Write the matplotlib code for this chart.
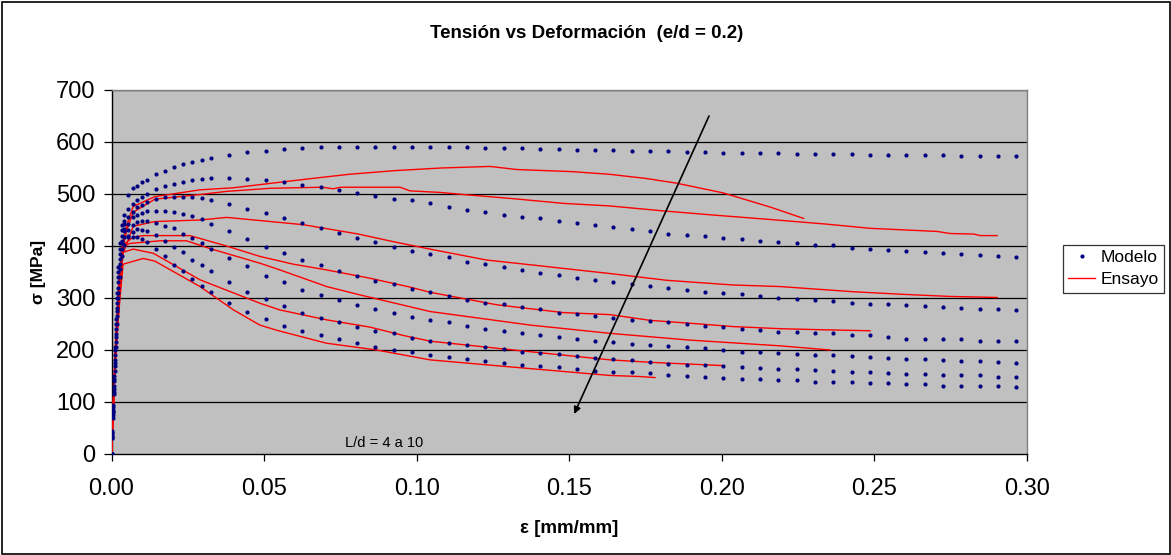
import matplotlib
matplotlib.use("Agg")
import matplotlib.pyplot as plt
from matplotlib.patches import Rectangle
from matplotlib.lines import Line2D

plt.rcParams['font.family'] = ['Liberation Sans', 'DejaVu Sans']

# ---- Modelo: strain grid shared by all seven model series ----
eps_model = [0.0, 0.0003, 0.0006, 0.0009, 0.0012, 0.0015, 0.0018, 0.0022, 0.0027, 0.0033,
             0.004, 0.0055, 0.007, 0.0085, 0.010, 0.0115, 0.0145, 0.0175, 0.0205, 0.0235,
             0.0265, 0.0295, 0.0325, 0.0385, 0.0445, 0.0505, 0.0565, 0.0625, 0.0685, 0.0745,
             0.0805, 0.0865, 0.0925, 0.0985, 0.1045, 0.1105, 0.1165, 0.1225, 0.1285, 0.1345,
             0.1405, 0.1465, 0.1525, 0.1585, 0.1645, 0.1705, 0.1765, 0.1825, 0.1885, 0.1945,
             0.2005, 0.2065, 0.2125, 0.2185, 0.2245, 0.2305, 0.2365, 0.2425, 0.2485, 0.2545,
             0.2605, 0.2665, 0.2725, 0.2785, 0.2845, 0.2905, 0.2965]

modelo_1 = [0, 45, 95, 150, 205, 260, 310, 360, 405, 440,
            460, 499, 511, 516, 523, 527, 538, 545, 551, 557, 561, 566, 570,
            575, 581, 583, 586, 589, 590, 590, 590, 590, 590, 590, 590, 590, 590,
            588, 588, 588, 586, 586, 585, 585, 585, 582, 582, 582, 581, 581,
            579, 579, 579, 579, 577, 577, 577, 577, 575, 575, 575, 575, 575,
            574, 574, 574, 574]
modelo_2 = [0, 40, 90, 145, 200, 250, 300, 350, 395, 430,
            449, 472, 481, 488, 495, 500, 510, 515, 519, 524, 527, 528, 531,
            531, 528, 527, 523, 517, 513, 508, 502, 497, 491, 488,
            482, 475, 470, 466, 460, 456, 453, 448, 444, 440, 437, 433, 429, 424, 421, 419,
            416, 414, 410, 408, 405, 402, 401, 397, 395, 393, 390, 389, 387, 385, 383, 381, 379]
modelo_3 = [0, 40, 85, 140, 190, 240, 290, 340, 385, 420,
            442, 455, 466, 475, 478, 485, 490, 494, 494, 495, 494, 492, 488,
            481, 472, 463, 454, 444, 434, 425, 416, 407, 399, 391,
            384, 378, 370, 365, 359, 354, 348, 344, 338, 334, 330, 327, 324, 320, 316, 312,
            310, 307, 304, 300, 299, 297, 295, 291, 289, 288, 286, 284, 282, 280, 279, 278, 276]
modelo_4 = [0, 35, 80, 130, 180, 230, 280, 330, 375, 410,
            433, 442, 455, 459, 463, 468, 468, 468, 466, 462, 457, 452, 442,
            429, 414, 398, 386, 374, 363, 352, 343, 333, 326, 318,
            311, 304, 297, 291, 288, 282, 279, 272, 269, 265, 262, 257, 256, 253, 250, 246,
            244, 241, 239, 235, 235, 233, 232, 228, 228, 225, 222, 222, 221, 221, 218, 217, 217]
modelo_5 = [0, 35, 80, 125, 175, 225, 275, 320, 365, 405,
            428, 431, 440, 447, 449, 449, 445, 439, 434, 423, 415, 406, 395,
            377, 361, 343, 330, 316, 305, 296, 287, 279, 271, 264,
            258, 253, 246, 240, 237, 233, 229, 225, 222, 218, 215, 212, 209, 207, 206, 203,
            200, 197, 196, 194, 192, 190, 190, 188, 186, 185, 183, 182, 181, 179, 179, 177, 175]
modelo_6 = [0, 30, 75, 120, 170, 215, 265, 310, 355, 395,
            417, 420, 426, 433, 431, 428, 421, 410, 398, 388, 373, 364, 351,
            330, 312, 298, 284, 271, 262, 253, 245, 237, 232, 224,
            218, 214, 209, 205, 201, 197, 194, 192, 188, 185, 182, 181, 177, 174, 172, 171,
            170, 167, 166, 163, 163, 162, 160, 158, 158, 156, 154, 154, 152, 151, 151, 149, 149]
modelo_7 = [0, 30, 70, 115, 160, 205, 250, 300, 340, 380,
            402, 417, 417, 417, 414, 407, 394, 380, 363, 351, 337, 324, 311,
            291, 273, 260, 247, 237, 229, 221, 214, 206, 200, 197,
            190, 186, 183, 179, 175, 171, 169, 167, 163, 160, 158, 158, 155, 152, 150, 149,
            147, 145, 145, 143, 142, 139, 139, 138, 136, 136, 134, 134, 131, 131, 130, 130, 128]

modelo_series = [modelo_1, modelo_2, modelo_3, modelo_4, modelo_5, modelo_6, modelo_7]

# ---- Ensayo: measured curves, each with its own strain points ----
ensayo_1_eps = [0, 0.0012, 0.0025, 0.0035, 0.005, 0.0071, 0.0142, 0.02, 0.029, 0.04, 0.0486,
                0.063, 0.078, 0.093, 0.108, 0.124, 0.133, 0.151, 0.163, 0.175, 0.185,
                0.2005, 0.2158, 0.2268]
ensayo_1_sig = [0, 200, 340, 400, 440, 476, 495, 500, 508, 512, 518,
                528, 538, 545, 550, 553, 547, 543, 538, 530, 521,
                502, 475, 453]

ensayo_2_eps = [0, 0.0012, 0.0025, 0.0035, 0.005, 0.0071, 0.0142, 0.029, 0.0377, 0.052,
                0.069, 0.0727, 0.075, 0.089, 0.0946, 0.0978, 0.1077, 0.1153, 0.1317, 0.148,
                0.1634, 0.1798, 0.1962, 0.2158, 0.2344, 0.2486, 0.2705, 0.2748, 0.2825,
                0.2847, 0.2902]
ensayo_2_sig = [0, 195, 330, 390, 430, 465, 490, 499, 505, 511,
                513, 510, 513, 513, 513, 506, 503, 499, 491, 482,
                477, 468, 460, 451, 442, 434, 428, 424, 423,
                420, 420]

ensayo_3_eps = [0, 0.0012, 0.0025, 0.0035, 0.0071, 0.0142, 0.029, 0.0377, 0.0486, 0.0628,
                0.0809, 0.0918, 0.1044, 0.1229, 0.1371, 0.1634, 0.182, 0.2038, 0.2191,
                0.2432, 0.2595, 0.2748, 0.2902]
ensayo_3_sig = [0, 190, 320, 380, 438, 447, 450, 455, 449, 441,
                423, 409, 394, 373, 364, 347, 334, 325, 322,
                312, 307, 303, 301]

ensayo_4_eps = [0, 0.0012, 0.0025, 0.0038, 0.0071, 0.0104, 0.0257, 0.0377, 0.0486, 0.0596,
                0.0705, 0.0847, 0.0978, 0.1044, 0.1262, 0.148, 0.1634, 0.1765, 0.1929,
                0.2038, 0.2191, 0.2322, 0.2486]
ensayo_4_sig = [0, 185, 310, 402, 417, 420, 420, 400, 380, 365,
                354, 338, 321, 311, 287, 272, 268, 257, 250,
                245, 241, 239, 237]

ensayo_5_eps = [0, 0.0012, 0.0025, 0.0038, 0.006, 0.0159, 0.0246, 0.0323, 0.0486, 0.0552,
                0.0705, 0.0814, 0.1044, 0.1371, 0.1634, 0.1896, 0.2191, 0.2355]
ensayo_5_sig = [0, 180, 300, 399, 405, 410, 410, 395, 367, 354,
                322, 306, 274, 248, 232, 219, 208, 200]

ensayo_6_eps = [0, 0.0012, 0.0025, 0.0038, 0.0071, 0.0137, 0.029, 0.0486, 0.0552, 0.0705,
                0.0847, 0.0956, 0.1044, 0.1317, 0.1634, 0.1776, 0.2005]
ensayo_6_sig = [0, 175, 290, 388, 394, 386, 335, 290, 277, 258,
                244, 228, 217, 200, 181, 176, 170]

ensayo_7_eps = [0, 0.0012, 0.0025, 0.0038, 0.0104, 0.0142, 0.029, 0.04, 0.0486, 0.0541,
                0.0705, 0.0869, 0.1044, 0.1317, 0.1634, 0.1732, 0.1781]
ensayo_7_sig = [0, 170, 280, 365, 376, 371, 322, 277, 248, 238,
                213, 200, 181, 167, 151, 149, 147]

ensayo_series = [(ensayo_1_eps, ensayo_1_sig), (ensayo_2_eps, ensayo_2_sig),
                 (ensayo_3_eps, ensayo_3_sig), (ensayo_4_eps, ensayo_4_sig),
                 (ensayo_5_eps, ensayo_5_sig), (ensayo_6_eps, ensayo_6_sig),
                 (ensayo_7_eps, ensayo_7_sig)]

x_ticks = [0.00, 0.05, 0.10, 0.15, 0.20, 0.25, 0.30]
x_tick_labels = ["0.00", "0.05", "0.10", "0.15", "0.20", "0.25", "0.30"]
y_ticks = [0, 100, 200, 300, 400, 500, 600, 700]

W, H = 1171, 555
fig = plt.figure(figsize=(W / 100, H / 100), dpi=100)
fig.patch.set_facecolor('white')

# outer chart frame
fig.add_artist(Rectangle((1.5 / W, 1.5 / H), (W - 3) / W, (H - 3) / H,
                         transform=fig.transFigure, fill=False,
                         edgecolor='black', linewidth=1.2))

left, right, top, bottom = 111.5, 1027, 90, 454
ax = fig.add_axes([left / W, 1 - bottom / H, (right - left) / W, (bottom - top) / H])
ax.set_facecolor('#C0C0C0')
ax.set_xlim(0, 0.30)
ax.set_ylim(0, 700)

for yv in y_ticks[1:]:
    ax.axhline(yv, color='black', linewidth=0.9, zorder=1)

for i, (ex, sy) in enumerate(ensayo_series):
    ax.plot(ex, sy, color='#FF0000', linewidth=1.0, zorder=3,
            label='Ensayo' if i == 0 else None)

for i, sy in enumerate(modelo_series):
    ax.plot(eps_model, sy, linestyle='none', marker='o', markersize=3.0,
            markerfacecolor='#000080', markeredgecolor='#000080', markeredgewidth=0,
            zorder=4, label='Modelo' if i == 0 else None)

ax.annotate('', xy=(0.1516, 77), xytext=(0.1958, 650),
            arrowprops=dict(arrowstyle='-|>', color='black', lw=1.2,
                            mutation_scale=10, shrinkA=0, shrinkB=0), zorder=5)

ax.text(0.0765, 14, 'L/d = 4 a 10', fontsize=10.5, color='black', ha='left',
        va='baseline', zorder=5)

ax.set_xticks(x_ticks)
ax.set_xticklabels(x_tick_labels)
ax.set_yticks(y_ticks)
ax.tick_params(axis='x', direction='out', length=5, width=0.9, pad=12.5,
               labelsize=17, colors='black')
ax.tick_params(axis='y', direction='out', length=5.5, width=0.9, pad=6,
               labelsize=17, colors='black')

for side in ['top', 'right']:
    ax.spines[side].set_color('#808080')
    ax.spines[side].set_linewidth(1.0)
for side in ['left', 'bottom']:
    ax.spines[side].set_color('black')
    ax.spines[side].set_linewidth(1.0)

ax.set_xlabel('ε [mm/mm]', fontsize=13.5, fontweight='bold')
ax.xaxis.set_label_coords(0.5, (bottom - 520) / (bottom - top))
ax.set_ylabel('σ [MPa]', fontsize=12.5, fontweight='bold')
ax.yaxis.set_label_coords((46 - left) / (right - left), 0.5)

fig.text(587 / W, 1 - 33 / H, 'Tensión vs Deformación  (e/d = 0.2)',
         ha='center', va='center', fontsize=13.5, fontweight='bold')

handles = [Line2D([], [], linestyle='none', marker='o', markersize=3.0,
                  markerfacecolor='#000080', markeredgewidth=0),
           Line2D([], [], color='#FF0000', linewidth=1.0)]
leg = fig.legend(handles, ['Modelo', 'Ensayo'], loc='upper left',
                 bbox_to_anchor=(1063 / W, 1 - 245 / H), fontsize=12.5,
                 frameon=True, fancybox=False, edgecolor='black',
                 borderpad=0.3, handlelength=1.55, handletextpad=0.3,
                 labelspacing=0.4, borderaxespad=0)
leg.get_frame().set_linewidth(0.9)

fig.savefig('out.png', dpi=100, facecolor='white')
